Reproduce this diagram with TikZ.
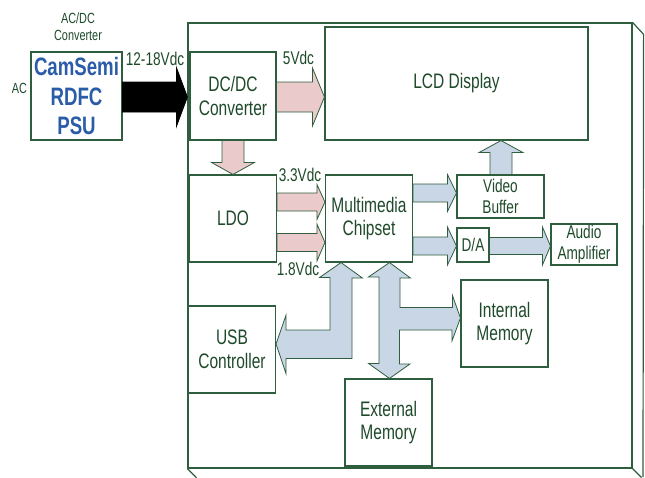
\documentclass[tikz,border=0pt]{standalone}
\usepackage{fontspec}
\setmainfont[FakeStretch=0.74]{Liberation Sans}
\usepackage{xcolor}
\usepackage{tikz}
\usetikzlibrary{calc}
\definecolor{PGreen}{HTML}{2E5E3E}
\definecolor{PText}{HTML}{1F4A2A}
\definecolor{PPink}{HTML}{EACACA}
\definecolor{PBlue}{HTML}{C9D6E5}
\definecolor{PSemi}{HTML}{2B5CA8}
\newcommand{\pbig}{\fontsize{21}{23.5}\selectfont}
\newcommand{\psmall}{\fontsize{18.4}{21}\selectfont}
\newcommand{\ptiny}{\fontsize{14.7}{17.5}\selectfont}
\newcommand{\ppsu}{\fontsize{25.2}{29.5}\selectfont\bfseries}
% block arrows: style, from, to, half body, half head, head length
\newcommand{\blkright}[6]{%
  \draw[#1] let \p1=(#2), \p2=(#3) in
    (\x1,{\y1+#4pt}) -- ({\x2-#6pt},{\y1+#4pt}) -- ({\x2-#6pt},{\y1+#5pt})
    -- (\x2,\y1) -- ({\x2-#6pt},{\y1-#5pt}) -- ({\x2-#6pt},{\y1-#4pt})
    -- (\x1,{\y1-#4pt}) -- cycle;}
\newcommand{\blkdown}[6]{%
  \draw[#1] let \p1=(#2), \p2=(#3) in
    ({\x1-#4pt},\y1) -- ({\x1-#4pt},{\y2+#6pt}) -- ({\x1-#5pt},{\y2+#6pt})
    -- (\x1,\y2) -- ({\x1+#5pt},{\y2+#6pt}) -- ({\x1+#4pt},{\y2+#6pt})
    -- ({\x1+#4pt},\y1) -- cycle;}
\newcommand{\blkup}[6]{%
  \draw[#1] let \p1=(#2), \p2=(#3) in
    ({\x1-#4pt},\y1) -- ({\x1-#4pt},{\y2-#6pt}) -- ({\x1-#5pt},{\y2-#6pt})
    -- (\x1,\y2) -- ({\x1+#5pt},{\y2-#6pt}) -- ({\x1+#4pt},{\y2-#6pt})
    -- ({\x1+#4pt},\y1) -- cycle;}

\begin{document}
\begin{tikzpicture}[
  x=1pt,y=-1pt,
  every node/.style={text=PText,inner sep=0pt},
  blk/.style={draw=PGreen,line width=1.1pt,fill=white,align=center},
  bigbox/.style={blk,minimum width=87pt,minimum height=87pt,font=\pbig},
  smallbox/.style={blk,font=\psmall},
  lbl/.style={font=\psmall},
  pinkarr/.style={draw=PGreen,line width=0.8pt,fill=PPink},
  bluearr/.style={draw=PGreen,line width=0.8pt,fill=PBlue},
  blackarr/.style={draw=black,line width=0.8pt,fill=black},
  frameline/.style={draw=PGreen,line width=1.2pt}
]
  \useasboundingbox (0,0) rectangle (645,477);
  % board
  \node[frameline,minimum width=444pt,minimum height=445pt] (board) at (410,245.5) {};
  \draw[frameline] (board.north east) -- ++(11,12) -- (643,477);
  \draw[frameline] (board.south west) -- ++(9,9);
  \draw[frameline] (board.south east) -- ++(9,9);

  \node[font=\ptiny,align=center] (acdc) at (78,26.5) {AC/DC\\Converter};
  \node[font=\ptiny] (ac) at (19.5,88) {AC};
  \node[blk,minimum width=91pt,minimum height=88pt,font=\ppsu,text=PSemi] (psu)
    at (76.5,96) {CamSemi\\RDFC\\PSU};

  \node[blk,minimum width=86pt,minimum height=88pt,font=\pbig] (dcdc) at (233,96) {DC/DC\\Converter};
  \node[blk,minimum width=263pt,minimum height=113pt,font=\pbig] (lcd) at (456.5,83.5) {LCD Display};
  \node[bigbox] (ldo) at (233,218.5) {LDO};
  \node[bigbox] (chip) at (369,218.5) {Multimedia\\Chipset};
  \node[smallbox,minimum width=87pt,minimum height=43pt] (vbuf) at (500.5,196.5) {Video\\Buffer};
  \node[smallbox,minimum width=32pt,minimum height=34pt] (da) at (473,245) {D/A};
  \node[smallbox,minimum width=66pt,minimum height=41pt] (audio) at (584,244.5) {Audio\\Amplifier};
  \node[bigbox] (intmem) at (504.5,323.5) {Internal\\Memory};
  \node[bigbox] (usb) at (232,349.5) {USB\\Controller};
  \node[bigbox] (extmem) at (388.5,422.5) {External\\Memory};

  \node[lbl] (vin) at (155,58.5) {12-18Vdc};
  \node[lbl] (v5) at (298.5,58) {5Vdc};
  \node[lbl] (v33) at (300,175) {3.3Vdc};
  \node[lbl] (v18) at (298,268.5) {1.8Vdc};

  \blkright{blackarr}{psu.east |- 0,97}{board.west |- 0,97}{15}{29.5}{11}
  \blkright{pinkarr}{dcdc.east |- 0,97}{lcd.west |- 0,97}{15}{29}{12}
  \blkdown{pinkarr}{dcdc.south}{ldo.north}{11}{21.5}{12}
  \blkright{pinkarr}{ldo.east |- 0,202}{chip.west |- 0,202}{9}{17.5}{8}
  \blkright{pinkarr}{ldo.east |- 0,242.5}{chip.west |- 0,242.5}{9}{18.5}{8}
  \blkright{bluearr}{chip.east |- 0,193}{vbuf.west |- 0,193}{9}{18.5}{9}
  \blkright{bluearr}{chip.east |- 0,246}{da.west |- 0,246}{9}{19}{9}
  \blkright{bluearr}{da.east |- 0,246}{audio.west |- 0,246}{8.5}{19}{8}
  \blkup{bluearr}{vbuf.north -| 501,0}{lcd.south -| 501,0}{11}{22}{12}

  \draw[bluearr] (chip.south -| 341,0) -- ++(21.5,15.5) -- ++(-10.5,0) -- ++(0,80.5)
    -- ++(-66,0) -- ++(0,15) -- (usb.east |- 0,344) -- ++(10,-29) -- ++(0,15)
    -- ++(44,0) -- ++(0,-52.5) -- ++(-10.5,0) -- cycle;
  \draw[bluearr] (chip.south -| 389.5,0) -- ++(21,15.5) -- ++(-10.5,0) -- ++(0,29.5)
    -- ++(52.5,0) -- ++(0,-12) -- (intmem.west |- 0,318) -- ++(-8.5,23) -- ++(0,-11)
    -- ++(-52.5,0) -- ++(0,34) -- ++(10.5,0) -- (extmem.north -| 389.5,0)
    -- ++(-21,-15) -- ++(10.5,0) -- ++(0,-86.5) -- ++(-10.5,0) -- cycle;
\end{tikzpicture}
\end{document}
